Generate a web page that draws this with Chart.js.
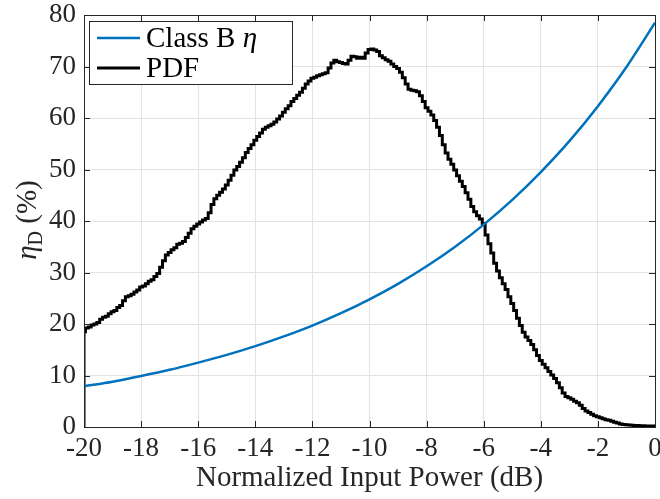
<!DOCTYPE html>
<html lang="en">
<head>
<meta charset="UTF-8">
<title>Class B efficiency and PDF</title>
<script src="https://cdn.jsdelivr.net/npm/chart.js@4.4.0/dist/chart.umd.min.js"></script>
<style>
  html, body { margin: 0; padding: 0; background: #fff; }
  .chart-container { position: relative; width: 660px; height: 499px; }
</style>
</head>
<body>
<div class="chart-container"><canvas id="chart"></canvas></div>
<script>
// Class B drain efficiency (%) vs normalized input power (dB)
const classBX = [-20, -19, -18, -17, -16, -15, -14, -13, -12, -11, -10, -9, -8, -7, -6, -5, -4, -3, -2, -1, 0];
const classBY = [7.9, 8.8, 9.9, 11.1, 12.5, 14.0, 15.7, 17.6, 19.7, 22.1, 24.8, 27.8, 31.2, 35.0, 39.3, 44.1, 49.5, 55.5, 62.3, 69.9, 78.5];

// signal PDF (histogram drawn as a stair line, 0.1 dB bins)
const pdfX = [-20,
  -20.0, -19.9, -19.8, -19.7, -19.6, -19.5, -19.4, -19.3, -19.2, -19.1,
  -19.0, -18.9, -18.8, -18.7, -18.6, -18.5, -18.4, -18.3, -18.2, -18.1,
  -18.0, -17.9, -17.8, -17.7, -17.6, -17.5, -17.4, -17.3, -17.2, -17.1,
  -17.0, -16.9, -16.8, -16.7, -16.6, -16.5, -16.4, -16.3, -16.2, -16.1,
  -16.0, -15.9, -15.8, -15.7, -15.6, -15.5, -15.4, -15.3, -15.2, -15.1,
  -15.0, -14.9, -14.8, -14.7, -14.6, -14.5, -14.4, -14.3, -14.2, -14.1,
  -14.0, -13.9, -13.8, -13.7, -13.6, -13.5, -13.4, -13.3, -13.2, -13.1,
  -13.0, -12.9, -12.8, -12.7, -12.6, -12.5, -12.4, -12.3, -12.2, -12.1,
  -12.0, -11.9, -11.8, -11.7, -11.6, -11.5, -11.4, -11.3, -11.2, -11.1,
  -11.0, -10.9, -10.8, -10.7, -10.6, -10.5, -10.4, -10.3, -10.2, -10.1,
  -10.0, -9.9, -9.8, -9.7, -9.6, -9.5, -9.4, -9.3, -9.2, -9.1,
  -9.0, -8.9, -8.8, -8.7, -8.6, -8.5, -8.4, -8.3, -8.2, -8.1,
  -8.0, -7.9, -7.8, -7.7, -7.6, -7.5, -7.4, -7.3, -7.2, -7.1,
  -7.0, -6.9, -6.8, -6.7, -6.6, -6.5, -6.4, -6.3, -6.2, -6.1,
  -6.0, -5.9, -5.8, -5.7, -5.6, -5.5, -5.4, -5.3, -5.2, -5.1,
  -5.0, -4.9, -4.8, -4.7, -4.6, -4.5, -4.4, -4.3, -4.2, -4.1,
  -4.0, -3.9, -3.8, -3.7, -3.6, -3.5, -3.4, -3.3, -3.2, -3.1,
  -3.0, -2.9, -2.8, -2.7, -2.6, -2.5, -2.4, -2.3, -2.2, -2.1,
  -2.0, -1.9, -1.8, -1.7, -1.6, -1.5, -1.4, -1.3, -1.2, -1.1,
  -1.0, -0.9, -0.8, -0.7, -0.6, -0.5, -0.4, -0.3, -0.2, -0.1, 0.0];
const pdfY = [0,
  18.5, 19.2, 19.4, 19.8, 20.0, 20.3, 20.9, 21.3, 21.5, 22.0,
  22.4, 22.6, 23.2, 23.6, 24.5, 25.3, 25.5, 25.8, 26.2, 26.6,
  27.2, 27.4, 27.8, 28.3, 28.6, 29.2, 29.8, 31.0, 32.3, 33.4,
  33.9, 34.4, 34.8, 35.5, 35.7, 36.0, 36.8, 37.6, 38.5, 39.0,
  39.4, 39.8, 40.2, 40.5, 41.6, 43.2, 44.3, 45.0, 45.6, 46.2,
  47.0, 47.9, 48.9, 49.9, 50.6, 51.4, 52.3, 53.3, 54.1, 54.8,
  55.7, 56.4, 57.1, 57.8, 58.2, 58.5, 58.8, 59.2, 59.8, 60.4,
  61.1, 61.8, 62.4, 63.2, 63.8, 64.4, 65.0, 65.8, 66.6, 67.2,
  67.7, 67.9, 68.2, 68.4, 68.6, 68.8, 69.7, 70.7, 71.2, 70.9,
  70.8, 70.6, 70.5, 71.2, 72.0, 71.9, 71.6, 71.8, 71.6, 72.6,
  73.3, 73.4, 73.2, 72.9, 72.1, 71.7, 71.3, 71.0, 70.5, 70.0,
  69.6, 68.9, 67.8, 66.6, 65.6, 65.4, 65.3, 65.1, 64.3, 63.2,
  62.0, 61.3, 60.6, 59.5, 58.2, 56.6, 54.8, 53.2, 52.0, 51.0,
  49.9, 48.8, 47.7, 46.7, 45.5, 44.2, 42.8, 41.8, 41.0, 40.4,
  39.5, 37.3, 35.6, 33.8, 31.8, 30.3, 29.0, 27.8, 26.7, 25.3,
  24.0, 22.6, 21.1, 19.7, 18.4, 17.5, 16.8, 16.0, 15.0, 13.9,
  12.9, 12.2, 11.5, 10.8, 10.1, 9.4, 8.6, 7.6, 6.6, 5.9,
  5.7, 5.4, 5.0, 4.7, 4.2, 3.6, 3.1, 2.8, 2.5, 2.2,
  2.0, 1.8, 1.6, 1.4, 1.3, 1.1, 0.9, 0.8, 0.6, 0.5,
  0.45, 0.4, 0.35, 0.3, 0.3, 0.25, 0.25, 0.2, 0.2, 0.2, 0.2];

const xTicks = [-20, -18, -16, -14, -12, -10, -8, -6, -4, -2, 0];
const yTicks = [0, 10, 20, 30, 40, 50, 60, 70, 80];

const serif = '"Liberation Serif", "Times New Roman", serif';
const axisColor = '#262626';
const gridColor = '#e3e3e3';
const blue = '#0072BD';
const tickFont = { family: serif, size: 27 };
const labelFont = { family: serif, size: 29 };

const toPoints = (xs, ys) => xs.map((x, i) => ({ x: x, y: ys[i] }));

// frame, inward ticks, y label with subscript, legend
const matlabLook = {
  id: 'matlabLook',
  afterDatasetsDraw(chart) {
    const { ctx, chartArea: a, scales } = chart;
    ctx.save();
    ctx.strokeStyle = axisColor;
    ctx.lineWidth = 1;
    ctx.beginPath();
    xTicks.forEach(v => {
      const px = Math.round(scales.x.getPixelForValue(v)) + 0.5;
      ctx.moveTo(px, a.bottom); ctx.lineTo(px, a.bottom - 6);
      ctx.moveTo(px, a.top); ctx.lineTo(px, a.top + 6);
    });
    yTicks.forEach(v => {
      const py = Math.round(scales.y.getPixelForValue(v)) + 0.5;
      ctx.moveTo(a.left, py); ctx.lineTo(a.left + 6, py);
      ctx.moveTo(a.right, py); ctx.lineTo(a.right - 6, py);
    });
    ctx.stroke();
    ctx.strokeRect(Math.round(a.left) + 0.5, Math.round(a.top) + 0.5,
                   Math.round(a.right - a.left), Math.round(a.bottom - a.top));

    // y axis title: eta_D (%)
    ctx.fillStyle = axisColor;
    ctx.textBaseline = 'alphabetic';
    ctx.translate(36, 220);
    ctx.rotate(-Math.PI / 2);
    const f1 = 'italic 29px ' + serif, f2 = '20px ' + serif, f3 = '29px ' + serif;
    ctx.font = f1; const w1 = ctx.measureText('η').width;
    ctx.font = f2; const w2 = ctx.measureText('D').width;
    ctx.font = f3; const w3 = ctx.measureText(' (%)').width;
    let x0 = -(w1 + w2 + w3) / 2;
    ctx.font = f1; ctx.fillText('η', x0, 0); x0 += w1;
    ctx.font = f2; ctx.fillText('D', x0, 6); x0 += w2;
    ctx.font = f3; ctx.fillText(' (%)', x0, 0);
    ctx.restore();

    // legend box
    ctx.save();
    ctx.fillStyle = '#fff';
    ctx.fillRect(89.5, 21.5, 203, 63);
    ctx.strokeStyle = axisColor;
    ctx.lineWidth = 1;
    ctx.strokeRect(89.5, 21.5, 203, 63);
    ctx.lineWidth = 2.5;
    ctx.strokeStyle = blue;
    ctx.beginPath(); ctx.moveTo(97, 38); ctx.lineTo(140, 38); ctx.stroke();
    ctx.strokeStyle = '#000';
    ctx.lineWidth = 3;
    ctx.beginPath(); ctx.moveTo(97, 68); ctx.lineTo(140, 68); ctx.stroke();
    ctx.fillStyle = '#000';
    ctx.textBaseline = 'middle';
    ctx.font = '29px ' + serif;
    ctx.fillText('Class B ', 146, 39);
    const cw = ctx.measureText('Class B ').width;
    ctx.font = 'italic 29px ' + serif;
    ctx.fillText('η', 146 + cw, 39);
    ctx.font = '29px ' + serif;
    ctx.fillText('PDF', 146, 69);
    ctx.restore();
  }
};

const ctx = document.getElementById('chart').getContext('2d');
const chart = new Chart(ctx, {
  type: 'line',
  data: {
    datasets: [{
      label: 'Class B η',
      data: toPoints(classBX, classBY),
      borderColor: blue,
      borderWidth: 2.5,
      pointRadius: 0,
      cubicInterpolationMode: 'monotone',
      fill: false
    }, {
      label: 'PDF',
      data: toPoints(pdfX, pdfY),
      borderColor: '#000',
      borderWidth: 3,
      pointRadius: 0,
      stepped: 'middle',
      fill: false
    }]
  },
  options: {
    responsive: true,
    maintainAspectRatio: false,
    animation: false,
    layout: { padding: { top: 15, right: 5, bottom: 0, left: 0 } },
    plugins: { legend: { display: false }, tooltip: { enabled: false } },
    scales: {
      x: {
        type: 'linear', min: -20, max: 0,
        afterFit(s) { s.height = 72; s.paddingLeft = 0; s.paddingRight = 0; },
        afterBuildTicks(s) { s.ticks = xTicks.map(v => ({ value: v })); },
        grid: { color: gridColor, drawTicks: false },
        border: { display: false },
        ticks: { font: tickFont, color: axisColor, padding: 6, maxRotation: 0, callback: v => String(v) },
        title: { display: true, text: 'Normalized Input Power (dB)', font: labelFont, color: axisColor, padding: { top: 0, bottom: 3 } }
      },
      y: {
        type: 'linear', min: 0, max: 80,
        afterFit(s) { s.width = 84; s.paddingTop = 0; s.paddingBottom = 0; },
        afterBuildTicks(s) { s.ticks = yTicks.map(v => ({ value: v })); },
        grid: { color: gridColor, drawTicks: false },
        border: { display: false },
        ticks: { font: tickFont, color: axisColor, padding: 8, callback: v => String(v) }
      }
    }
  },
  plugins: [matlabLook]
});
</script>
</body>
</html>
